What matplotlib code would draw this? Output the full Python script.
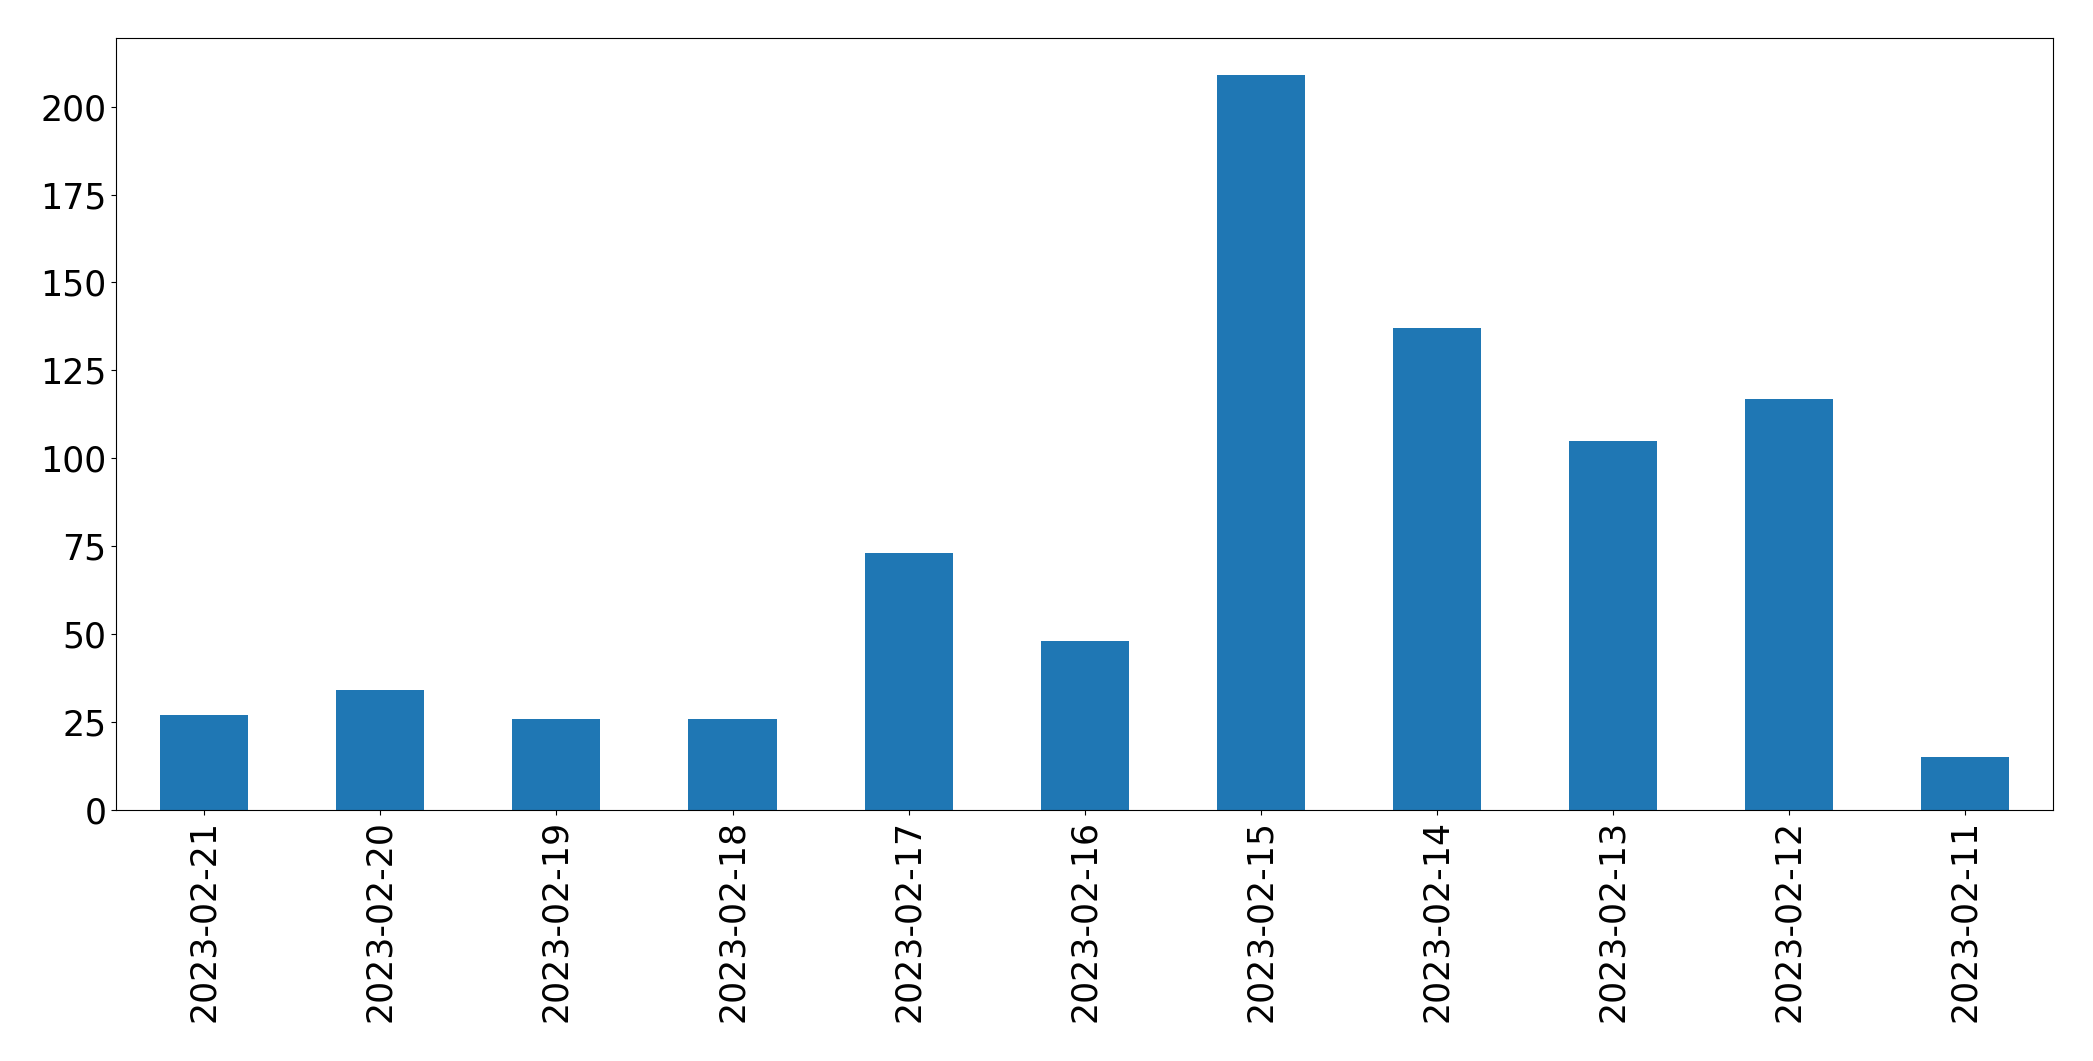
import matplotlib
matplotlib.use("Agg")
import matplotlib.pyplot as plt

dates = ["2023-02-21", "2023-02-20", "2023-02-19", "2023-02-18", "2023-02-17",
         "2023-02-16", "2023-02-15", "2023-02-14", "2023-02-13", "2023-02-12",
         "2023-02-11"]
counts = [27, 34, 26, 26, 73, 48, 209, 137, 105, 117, 15]

fig = plt.figure(figsize=(20.93, 10.61), dpi=100)
ax = fig.add_axes([0.0555, 0.2365, 0.9255, 0.7275])

x = range(len(dates))
ax.bar(x, counts, width=0.5, color="#1f77b4")
ax.set_xlim(-0.5, len(dates) - 0.5)
ax.set_xticks(list(x))
ax.set_xticklabels(dates, rotation=90)
ax.tick_params(labelsize=25)

fig.savefig("out.png", dpi=100)
